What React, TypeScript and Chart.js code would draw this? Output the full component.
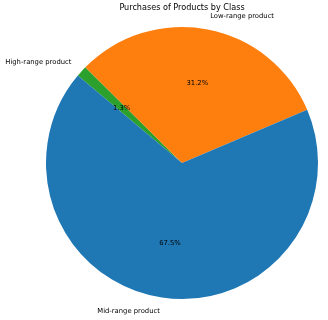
import React, { useEffect, useRef } from "react";
import { Chart, registerables } from "chart.js";

Chart.register(...registerables);

// Slices listed clockwise starting from the High-range wedge
const categories = ["High-range product", "Low-range product", "Mid-range product"];
const shares = [1.3, 31.2, 67.5];
const colors = ["#2ca02c", "#ff7f0e", "#1f77b4"];
const chartTitle = "Purchases of Products by Class";

const labelPlugin = {
  id: "pieLabels",
  afterDatasetsDraw(chart: any) {
    const ctx = chart.ctx;
    const meta = chart.getDatasetMeta(0);
    const total = shares.reduce((a, b) => a + b, 0);
    ctx.save();
    ctx.fillStyle = "#000";
    ctx.textBaseline = "middle";
    meta.data.forEach((arc: any, i: number) => {
      const { x, y, startAngle, endAngle, outerRadius } = arc.getProps(
        ["x", "y", "startAngle", "endAngle", "outerRadius"],
        true
      );
      const mid = (startAngle + endAngle) / 2;
      const c = Math.cos(mid);
      const s = Math.sin(mid);
      // percentage
      ctx.font = "6.8px 'DejaVu Sans'";
      ctx.textAlign = "center";
      const pct = ((shares[i] / total) * 100).toFixed(1) + "%";
      ctx.fillText(pct, x + c * outerRadius * 0.6, y + s * outerRadius * 0.6);
      // category label
      const lx = x + c * outerRadius * 1.1;
      const ly = y + s * outerRadius * 1.1;
      ctx.textAlign = Math.abs(c) < 1e-6 ? "center" : c > 0 ? "left" : "right";
      ctx.fillText(categories[i], lx, ly);
    });
    // title
    ctx.font = "8.1px 'DejaVu Sans'";
    ctx.textAlign = "center";
    ctx.textBaseline = "middle";
    const ca = chart.chartArea;
    ctx.fillText(chartTitle, (ca.left + ca.right) / 2, 8);
    ctx.restore();
  },
};

export default function App() {
  const ref = useRef<HTMLCanvasElement>(null);
  useEffect(() => {
    if (!ref.current) return;
    const chart = new Chart(ref.current, {
      type: "pie",
      data: {
        labels: categories,
        datasets: [
          {
            data: shares,
            backgroundColor: colors,
            borderWidth: 0,
          },
        ],
      },
      options: {
        responsive: false,
        animation: false,
        rotation: -50,
        layout: { padding: { left: 45.5, right: 9.5, top: 27, bottom: 21 } },
        plugins: {
          legend: { display: false },
          tooltip: { enabled: false },
          title: { display: false },
        },
      },
      plugins: [labelPlugin],
    });
    return () => chart.destroy();
  }, []);
  return (
    <div style={{ position: "fixed", left: 0, top: 0, width: 328, height: 320, background: "#fff" }}>
      <canvas ref={ref} width={328} height={320} style={{ width: 328, height: 320 }} />
    </div>
  );
}
